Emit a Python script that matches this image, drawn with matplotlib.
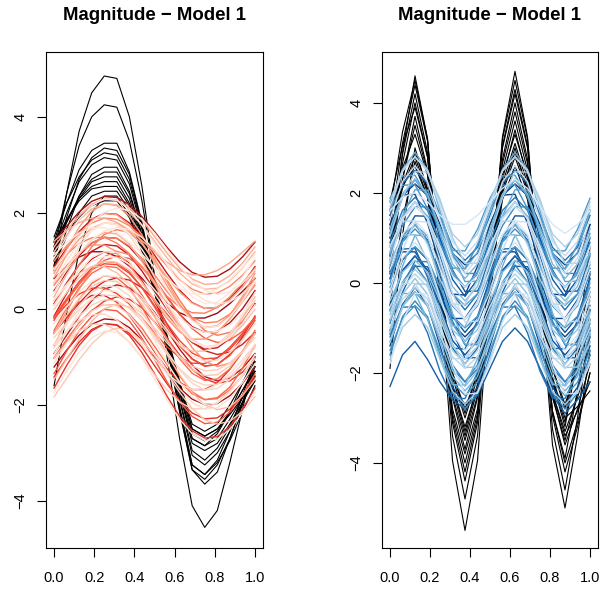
import numpy as np
import matplotlib
matplotlib.use("Agg")
import matplotlib.pyplot as plt

plt.rcParams['font.family'] = ['Liberation Sans', 'DejaVu Sans']

# common grid of the curves (t in [0, 1])
t_grid = np.linspace(0, 1, 17)

title = "Magnitude \u2212 Model 1"

# ---- left panel: outlying curves (black) ----
left_outliers = [
    [0.9, 2.4, 3.7, 4.5, 4.85, 4.8, 4.0, 2.55, 0.7, -1.0, -2.7, -4.1, -4.55, -4.2, -3.2, -2.1, -1.0],
    [1.2, 2.4, 3.4, 4.0, 4.25, 4.2, 3.5, 2.25, 0.65, -0.8, -2.15, -3.35, -3.65, -3.4, -2.7, -1.95, -1.2],
    [1.4, 2.2, 2.9, 3.3, 3.45, 3.45, 2.85, 1.8, 0.5, -0.8, -2.1, -3.35, -3.55, -3.25, -2.7, -2.0, -1.3],
    [1.0, 1.9, 2.7, 3.15, 3.35, 3.3, 2.8, 1.75, 0.5, -0.75, -2.05, -3.25, -3.45, -3.15, -2.55, -1.8, -1.1],
    [1.5, 2.2, 2.75, 3.1, 3.25, 3.2, 2.7, 1.7, 0.5, -0.75, -1.9, -3.05, -3.25, -3.0, -2.55, -1.95, -1.4],
    [1.3, 2.0, 2.65, 3.0, 3.15, 3.1, 2.6, 1.65, 0.5, -0.65, -1.75, -2.8, -2.95, -2.8, -2.4, -1.95, -1.5],
    [0.8, 1.65, 2.35, 2.8, 2.95, 2.95, 2.45, 1.55, 0.45, -0.65, -1.7, -2.7, -2.85, -2.6, -2.15, -1.55, -1.0],
    [1.1, 1.8, 2.35, 2.7, 2.85, 2.85, 2.4, 1.5, 0.45, -0.7, -1.85, -2.95, -3.15, -2.9, -2.45, -1.85, -1.3],
    [1.2, 1.8, 2.3, 2.65, 2.75, 2.75, 2.3, 1.45, 0.4, -0.6, -1.6, -2.6, -2.75, -2.55, -2.15, -1.7, -1.2],
    [1.4, 1.85, 2.25, 2.5, 2.55, 2.55, 2.15, 1.35, 0.4, -0.6, -1.55, -2.5, -2.65, -2.5, -2.2, -1.85, -1.5],
    [0.9, 1.5, 2.0, 2.35, 2.45, 2.45, 2.05, 1.3, 0.35, -0.55, -1.5, -2.4, -2.55, -2.4, -2.0, -1.55, -1.1],
    [1.0, 1.5, 1.9, 2.15, 2.25, 2.25, 1.9, 1.2, 0.35, -0.65, -1.7, -2.7, -2.85, -2.7, -2.3, -1.85, -1.4],
    [-1.6, -0.1, 1.2, 2.0, 2.35, 2.35, 1.95, 1.25, 0.35, -0.6, -1.55, -2.5, -2.65, -2.5, -2.15, -1.7, -1.3],
    [1.3, 1.85, 2.3, 2.55, 2.65, 2.65, 2.2, 1.4, 0.4, -0.75, -2.05, -3.25, -3.45, -3.2, -2.75, -2.15, -1.6],
]

# ---- left panel: regular curves (reds) ----
left_curves = [
    [0.08, 0.46, 0.81, 1.07, 1.19, 1.17, 0.99, 0.70, 0.32, -0.06, -0.41, -0.67, -0.79, -0.77, -0.59, -0.30, 0.08],
    [-0.74, -0.31, 0.07, 0.35, 0.49, 0.46, 0.27, -0.06, -0.46, -0.89, -1.27, -1.55, -1.69, -1.66, -1.47, -1.14, -0.74],
    [0.79, 1.14, 1.45, 1.68, 1.79, 1.77, 1.61, 1.35, 1.01, 0.66, 0.35, 0.12, 0.01, 0.03, 0.19, 0.45, 0.79],
    [-1.35, -0.88, -0.46, -0.16, -0.01, -0.04, -0.25, -0.61, -1.05, -1.52, -1.94, -2.24, -2.39, -2.36, -2.15, -1.79, -1.35],
    [0.38, 0.76, 1.11, 1.37, 1.49, 1.47, 1.29, 1.00, 0.62, 0.24, -0.11, -0.37, -0.49, -0.47, -0.29, 0.00, 0.38],
    [-0.31, 0.04, 0.35, 0.58, 0.69, 0.67, 0.51, 0.25, -0.09, -0.44, -0.75, -0.98, -1.09, -1.07, -0.91, -0.65, -0.31],
    [1.19, 1.54, 1.85, 2.08, 2.19, 2.17, 2.01, 1.75, 1.41, 1.06, 0.75, 0.52, 0.41, 0.43, 0.59, 0.85, 1.19],
    [-1.02, -0.64, -0.29, -0.03, 0.09, 0.07, -0.11, -0.40, -0.78, -1.16, -1.51, -1.77, -1.89, -1.87, -1.69, -1.40, -1.02],
    [-0.15, 0.32, 0.74, 1.04, 1.19, 1.16, 0.95, 0.59, 0.15, -0.32, -0.74, -1.04, -1.19, -1.16, -0.95, -0.59, -0.15],
    [0.56, 0.99, 1.37, 1.65, 1.79, 1.76, 1.57, 1.24, 0.84, 0.41, 0.03, -0.25, -0.39, -0.36, -0.17, 0.16, 0.56],
    [-0.52, -0.14, 0.21, 0.47, 0.59, 0.57, 0.39, 0.10, -0.28, -0.66, -1.01, -1.27, -1.39, -1.37, -1.19, -0.90, -0.52],
    [1.00, 1.31, 1.59, 1.79, 1.89, 1.87, 1.73, 1.50, 1.20, 0.89, 0.61, 0.41, 0.31, 0.33, 0.47, 0.70, 1.00],
    [-1.65, -1.18, -0.76, -0.46, -0.31, -0.34, -0.55, -0.91, -1.35, -1.82, -2.24, -2.54, -2.69, -2.66, -2.45, -2.09, -1.65],
    [0.20, 0.51, 0.79, 0.99, 1.09, 1.07, 0.93, 0.70, 0.40, 0.09, -0.19, -0.39, -0.49, -0.47, -0.33, -0.10, 0.20],
    [-0.81, -0.46, -0.15, 0.08, 0.19, 0.17, 0.01, -0.25, -0.59, -0.94, -1.25, -1.48, -1.59, -1.57, -1.41, -1.15, -0.81],
    [0.65, 1.12, 1.54, 1.84, 1.99, 1.96, 1.75, 1.39, 0.95, 0.48, 0.06, -0.24, -0.39, -0.36, -0.15, 0.21, 0.65],
    [-0.24, 0.19, 0.57, 0.85, 0.99, 0.96, 0.77, 0.44, 0.04, -0.39, -0.77, -1.05, -1.19, -1.16, -0.97, -0.64, -0.24],
    [1.39, 1.72, 2.02, 2.24, 2.34, 2.32, 2.17, 1.92, 1.61, 1.28, 0.98, 0.76, 0.66, 0.68, 0.83, 1.08, 1.39],
    [-1.14, -0.71, -0.33, -0.05, 0.09, 0.06, -0.13, -0.46, -0.86, -1.29, -1.67, -1.95, -2.09, -2.06, -1.87, -1.54, -1.14],
    [0.25, 0.72, 1.14, 1.44, 1.59, 1.56, 1.35, 0.99, 0.55, 0.08, -0.34, -0.64, -0.79, -0.76, -0.55, -0.19, 0.25],
    [-0.45, 0.02, 0.44, 0.74, 0.89, 0.86, 0.65, 0.29, -0.15, -0.62, -1.04, -1.34, -1.49, -1.46, -1.25, -0.89, -0.45],
    [0.88, 1.26, 1.61, 1.87, 1.99, 1.97, 1.79, 1.50, 1.12, 0.74, 0.39, 0.13, 0.01, 0.03, 0.21, 0.50, 0.88],
    [-0.95, -0.48, -0.06, 0.24, 0.39, 0.36, 0.15, -0.21, -0.65, -1.12, -1.54, -1.84, -1.99, -1.96, -1.75, -1.39, -0.95],
    [-0.01, 0.34, 0.65, 0.88, 0.99, 0.97, 0.81, 0.55, 0.21, -0.14, -0.45, -0.68, -0.79, -0.77, -0.61, -0.35, -0.01],
    [0.49, 0.84, 1.15, 1.38, 1.49, 1.47, 1.31, 1.05, 0.71, 0.36, 0.05, -0.18, -0.29, -0.27, -0.11, 0.15, 0.49],
    [-1.42, -1.04, -0.69, -0.43, -0.31, -0.33, -0.51, -0.80, -1.18, -1.56, -1.91, -2.17, -2.29, -2.27, -2.09, -1.80, -1.42],
    [1.06, 1.49, 1.87, 2.15, 2.29, 2.26, 2.07, 1.74, 1.34, 0.91, 0.53, 0.25, 0.11, 0.14, 0.33, 0.66, 1.06],
    [-0.60, -0.29, -0.01, 0.19, 0.29, 0.27, 0.13, -0.10, -0.40, -0.71, -0.99, -1.19, -1.29, -1.27, -1.13, -0.90, -0.60],
    [0.74, 1.24, 1.70, 2.03, 2.19, 2.15, 1.93, 1.54, 1.06, 0.56, 0.10, -0.23, -0.39, -0.35, -0.13, 0.26, 0.74],
    [-0.17, 0.21, 0.56, 0.82, 0.94, 0.92, 0.74, 0.45, 0.07, -0.31, -0.66, -0.92, -1.04, -1.02, -0.84, -0.55, -0.17],
    [-1.21, -0.86, -0.55, -0.32, -0.21, -0.23, -0.39, -0.65, -0.99, -1.34, -1.65, -1.88, -1.99, -1.97, -1.81, -1.55, -1.21],
    [0.34, 0.84, 1.30, 1.63, 1.79, 1.75, 1.53, 1.14, 0.66, 0.16, -0.30, -0.63, -0.79, -0.75, -0.53, -0.14, 0.34],
    [1.29, 1.64, 1.95, 2.18, 2.29, 2.27, 2.11, 1.85, 1.51, 1.16, 0.85, 0.62, 0.51, 0.53, 0.69, 0.95, 1.29],
    [-0.76, -0.26, 0.20, 0.53, 0.69, 0.65, 0.43, 0.04, -0.44, -0.94, -1.40, -1.73, -1.89, -1.85, -1.63, -1.24, -0.76],
    [0.11, 0.54, 0.92, 1.20, 1.34, 1.31, 1.12, 0.79, 0.39, -0.04, -0.42, -0.70, -0.84, -0.81, -0.62, -0.29, 0.11],
    [-1.74, -1.30, -0.90, -0.60, -0.46, -0.49, -0.69, -1.03, -1.46, -1.90, -2.30, -2.60, -2.74, -2.71, -2.51, -2.17, -1.74],
    # curves peaking a little earlier
    [0.17, 0.49, 0.74, 0.88, 0.88, 0.75, 0.51, 0.18, -0.17, -0.49, -0.74, -0.88, -0.88, -0.75, -0.51, -0.18, 0.17],
    [0.85, 1.14, 1.36, 1.48, 1.49, 1.37, 1.15, 0.86, 0.55, 0.26, 0.04, -0.08, -0.09, 0.03, 0.25, 0.54, 0.85],
    [-0.51, -0.15, 0.13, 0.28, 0.28, 0.14, -0.14, -0.50, -0.89, -1.25, -1.53, -1.68, -1.68, -1.54, -1.26, -0.90, -0.51],
    [1.13, 1.38, 1.58, 1.69, 1.69, 1.59, 1.39, 1.14, 0.87, 0.62, 0.42, 0.31, 0.31, 0.41, 0.61, 0.86, 1.13],
    [-1.03, -0.71, -0.46, -0.32, -0.32, -0.45, -0.69, -1.02, -1.37, -1.69, -1.94, -2.08, -2.08, -1.95, -1.71, -1.38, -1.03],
    [0.54, 0.90, 1.18, 1.33, 1.33, 1.19, 0.91, 0.55, 0.16, -0.20, -0.48, -0.63, -0.63, -0.49, -0.21, 0.15, 0.54],
    [-0.20, 0.09, 0.31, 0.43, 0.44, 0.32, 0.10, -0.19, -0.50, -0.79, -1.01, -1.13, -1.14, -1.02, -0.80, -0.51, -0.20],
    [0.63, 0.88, 1.08, 1.19, 1.19, 1.09, 0.89, 0.64, 0.37, 0.12, -0.08, -0.19, -0.19, -0.09, 0.11, 0.36, 0.63],
    [-0.75, -0.46, -0.24, -0.12, -0.11, -0.23, -0.45, -0.74, -1.05, -1.34, -1.56, -1.68, -1.69, -1.57, -1.35, -1.06, -0.75],
    [1.41, 1.63, 1.80, 1.89, 1.89, 1.80, 1.64, 1.42, 1.19, 0.97, 0.80, 0.71, 0.71, 0.80, 0.96, 1.18, 1.41],
    # curves peaking a little later
    [-0.18, 0.16, 0.51, 0.81, 1.01, 1.10, 1.05, 0.87, 0.58, 0.24, -0.11, -0.41, -0.61, -0.70, -0.65, -0.47, -0.18],
    [-0.93, -0.55, -0.16, 0.17, 0.41, 0.50, 0.44, 0.24, -0.07, -0.45, -0.84, -1.17, -1.41, -1.50, -1.44, -1.24, -0.93],
    [0.56, 0.86, 1.17, 1.44, 1.62, 1.70, 1.65, 1.49, 1.24, 0.94, 0.63, 0.36, 0.18, 0.10, 0.15, 0.31, 0.56],
    [-1.47, -1.05, -0.63, -0.26, 0.00, 0.10, 0.04, -0.19, -0.53, -0.95, -1.37, -1.74, -2.00, -2.10, -2.04, -1.81, -1.47],
    [0.08, 0.50, 0.92, 1.29, 1.55, 1.65, 1.59, 1.36, 1.02, 0.60, 0.18, -0.19, -0.45, -0.55, -0.49, -0.26, 0.08],
    [-0.49, -0.19, 0.12, 0.39, 0.57, 0.65, 0.60, 0.44, 0.19, -0.11, -0.42, -0.69, -0.87, -0.95, -0.90, -0.74, -0.49],
    [0.82, 1.16, 1.51, 1.81, 2.01, 2.10, 2.05, 1.87, 1.58, 1.24, 0.89, 0.59, 0.39, 0.30, 0.35, 0.53, 0.82],
    [-1.83, -1.45, -1.06, -0.73, -0.49, -0.40, -0.46, -0.66, -0.97, -1.35, -1.74, -2.07, -2.31, -2.40, -2.34, -2.14, -1.83],
    [-0.51, -0.06, 0.41, 0.81, 1.09, 1.20, 1.13, 0.89, 0.51, 0.06, -0.41, -0.81, -1.09, -1.20, -1.13, -0.89, -0.51],
    [-1.03, -0.69, -0.34, -0.04, 0.16, 0.25, 0.20, 0.02, -0.27, -0.61, -0.96, -1.26, -1.46, -1.55, -1.50, -1.32, -1.03],
]

# ---- right panel: outlying curves (black) ----
right_outliers = [
    [0.3, 2.9, 4.6, 3.2, -0.2, -3.95, -5.5, -3.95, -0.2, 3.25, 4.7, 3.25, -0.2, -3.6, -5.0, -3.4, -1.5],
    [1.6, 3.35, 4.5, 3.2, 0.0, -3.4, -4.8, -3.4, 0.0, 3.2, 4.5, 3.2, 0.0, -3.25, -4.6, -3.0, -1.0],
    [1.2, 3.1, 4.4, 3.15, 0.1, -3.1, -4.4, -3.1, 0.1, 3.05, 4.3, 3.05, 0.1, -2.95, -4.2, -3.2, -2.0],
    [0.8, 2.85, 4.2, 2.9, -0.3, -2.9, -4.0, -2.9, -0.3, 2.75, 4.0, 2.75, -0.3, -2.85, -3.9, -2.4, -0.6],
    [1.8, 3.05, 3.9, 2.8, 0.2, -2.55, -3.7, -2.55, 0.2, 3.0, 4.2, 3.0, 0.2, -2.5, -3.6, -2.8, -1.8],
    [0.5, 2.3, 3.5, 2.45, -0.1, -2.5, -3.5, -2.5, -0.1, 2.5, 3.6, 2.5, -0.1, -2.45, -3.4, -2.85, -2.2],
    [1.4, 2.55, 3.3, 2.4, 0.3, -2.25, -3.3, -2.25, 0.3, 2.4, 3.3, 2.4, 0.3, -2.2, -3.2, -1.65, 0.2],
    [-1.9, 1.05, 3.0, 2.05, -0.2, -2.3, -3.2, -2.3, -0.2, 2.05, 3.0, 2.05, -0.2, -2.55, -3.5, -2.45, -1.2],
    [1.0, 2.1, 2.8, 2.0, 0.0, -2.1, -3.0, -2.1, 0.0, 2.0, 2.8, 2.0, 0.0, -2.1, -3.0, -2.75, -2.4],
    [1.5, 2.15, 2.6, 1.9, 0.2, -2.0, -2.9, -2.0, 0.2, 2.1, 2.9, 2.1, 0.2, -1.9, -2.8, -1.7, -0.3],
    [0.2, 2.3, 3.7, 2.5, -0.4, -2.8, -3.8, -2.8, -0.4, 2.3, 3.4, 2.3, -0.4, -2.45, -3.3, -2.55, -1.6],
    [1.1, 2.2, 2.9, 2.1, 0.1, -2.35, -3.4, -2.35, 0.1, 2.2, 3.1, 2.2, 0.1, -2.15, -3.1, -1.35, 0.8],
    [0.6, 2.65, 4.0, 2.8, -0.1, -3.0, -4.2, -3.0, -0.1, 2.65, 3.8, 2.65, -0.1, -2.85, -4.0, -3.1, -2.0],
    [-0.5, 1.4, 2.7, 1.9, 0.0, -2.0, -2.8, -2.0, 0.0, 1.85, 2.6, 1.85, 0.0, -1.9, -2.7, -1.85, -0.8],
]

# ---- right panel: regular curves (blues) ----
right_curves = [
    [0.3, 1.08, 1.4, 1.08, 0.3, -0.48, -0.8, -0.48, 0.3, 1.08, 1.4, 1.08, 0.3, -0.48, -0.8, -0.48, 0.3],
    [-0.8, -0.09, 0.2, -0.09, -0.8, -1.51, -1.8, -1.51, -0.8, -0.09, 0.2, -0.09, -0.8, -1.51, -1.8, -1.51, -0.8],
    [1.2, 1.98, 2.3, 1.98, 1.2, 0.42, 0.1, 0.42, 1.2, 1.98, 2.3, 1.98, 1.2, 0.42, 0.1, 0.42, 1.2],
    [-1.5, -0.79, -0.5, -0.79, -1.5, -2.21, -2.5, -2.21, -1.5, -0.79, -0.5, -0.79, -1.5, -2.21, -2.5, -2.21, -1.5],
    [0.6, 1.45, 1.8, 1.45, 0.6, -0.25, -0.6, -0.25, 0.6, 1.45, 1.8, 1.45, 0.6, -0.25, -0.6, -0.25, 0.6],
    [-0.2, 0.51, 0.8, 0.51, -0.2, -0.91, -1.2, -0.91, -0.2, 0.51, 0.8, 0.51, -0.2, -0.91, -1.2, -0.91, -0.2],
    [1.7, 2.48, 2.8, 2.48, 1.7, 0.92, 0.6, 0.92, 1.7, 2.48, 2.8, 2.48, 1.7, 0.92, 0.6, 0.92, 1.7],
    [-1.1, -0.25, 0.1, -0.25, -1.1, -1.95, -2.3, -1.95, -1.1, -0.25, 0.1, -0.25, -1.1, -1.95, -2.3, -1.95, -1.1],
    [0.0, 0.92, 1.3, 0.92, 0.0, -0.92, -1.3, -0.92, 0.0, 0.92, 1.3, 0.92, 0.0, -0.92, -1.3, -0.92, 0.0],
    [0.9, 1.61, 1.9, 1.61, 0.9, 0.19, -0.1, 0.19, 0.9, 1.61, 1.9, 1.61, 0.9, 0.19, -0.1, 0.19, 0.9],
    [-0.5, 0.28, 0.6, 0.28, -0.5, -1.28, -1.6, -1.28, -0.5, 0.28, 0.6, 0.28, -0.5, -1.28, -1.6, -1.28, -0.5],
    [1.4, 2.25, 2.6, 2.25, 1.4, 0.55, 0.2, 0.55, 1.4, 2.25, 2.6, 2.25, 1.4, 0.55, 0.2, 0.55, 1.4],
    [-1.7, -0.99, -0.7, -0.99, -1.7, -2.41, -2.7, -2.41, -1.7, -0.99, -0.7, -0.99, -1.7, -2.41, -2.7, -2.41, -1.7],
    [0.4, 1.04, 1.3, 1.04, 0.4, -0.24, -0.5, -0.24, 0.4, 1.04, 1.3, 1.04, 0.4, -0.24, -0.5, -0.24, 0.4],
    [-0.9, 0.02, 0.4, 0.02, -0.9, -1.82, -2.2, -1.82, -0.9, 0.02, 0.4, 0.02, -0.9, -1.82, -2.2, -1.82, -0.9],
    [1.0, 1.92, 2.3, 1.92, 1.0, 0.08, -0.3, 0.08, 1.0, 1.92, 2.3, 1.92, 1.0, 0.08, -0.3, 0.08, 1.0],
    [-0.3, 0.55, 0.9, 0.55, -0.3, -1.15, -1.5, -1.15, -0.3, 0.55, 0.9, 0.55, -0.3, -1.15, -1.5, -1.15, -0.3],
    [1.8, 2.51, 2.8, 2.51, 1.8, 1.09, 0.8, 1.09, 1.8, 2.51, 2.8, 2.51, 1.8, 1.09, 0.8, 1.09, 1.8],
    [-1.3, -0.52, -0.2, -0.52, -1.3, -2.08, -2.4, -2.08, -1.3, -0.52, -0.2, -0.52, -1.3, -2.08, -2.4, -2.08, -1.3],
    [0.2, 0.91, 1.2, 0.91, 0.2, -0.51, -0.8, -0.51, 0.2, 0.91, 1.2, 0.91, 0.2, -0.51, -0.8, -0.51, 0.2],
    [-0.6, 0.25, 0.6, 0.25, -0.6, -1.45, -1.8, -1.45, -0.6, 0.25, 0.6, 0.25, -0.6, -1.45, -1.8, -1.45, -0.6],
    [1.3, 1.94, 2.2, 1.94, 1.3, 0.66, 0.4, 0.66, 1.3, 1.94, 2.2, 1.94, 1.3, 0.66, 0.4, 0.66, 1.3],
    [-1.0, -0.36, -0.1, -0.36, -1.0, -1.64, -1.9, -1.64, -1.0, -0.36, -0.1, -0.36, -1.0, -1.64, -1.9, -1.64, -1.0],
    [0.7, 1.48, 1.8, 1.48, 0.7, -0.08, -0.4, -0.08, 0.7, 1.48, 1.8, 1.48, 0.7, -0.08, -0.4, -0.08, 0.7],
    [-0.1, 0.54, 0.8, 0.54, -0.1, -0.74, -1.0, -0.74, -0.1, 0.54, 0.8, 0.54, -0.1, -0.74, -1.0, -0.74, -0.1],
    [1.5, 2.21, 2.5, 2.21, 1.5, 0.79, 0.5, 0.79, 1.5, 2.21, 2.5, 2.21, 1.5, 0.79, 0.5, 0.79, 1.5],
    [-1.4, -0.48, -0.1, -0.48, -1.4, -2.32, -2.7, -2.32, -1.4, -0.48, -0.1, -0.48, -1.4, -2.32, -2.7, -2.32, -1.4],
    [0.5, 1.42, 1.8, 1.42, 0.5, -0.42, -0.8, -0.42, 0.5, 1.42, 1.8, 1.42, 0.5, -0.42, -0.8, -0.42, 0.5],
    [-0.4, 0.24, 0.5, 0.24, -0.4, -1.04, -1.3, -1.04, -0.4, 0.24, 0.5, 0.24, -0.4, -1.04, -1.3, -1.04, -0.4],
    [1.1, 1.95, 2.3, 1.95, 1.1, 0.25, -0.1, 0.25, 1.1, 1.95, 2.3, 1.95, 1.1, 0.25, -0.1, 0.25, 1.1],
    [-1.2, -0.49, -0.2, -0.49, -1.2, -1.91, -2.2, -1.91, -1.2, -0.49, -0.2, -0.49, -1.2, -1.91, -2.2, -1.91, -1.2],
    [0.1, 0.95, 1.3, 0.95, 0.1, -0.75, -1.1, -0.75, 0.1, 0.95, 1.3, 0.95, 0.1, -0.75, -1.1, -0.75, 0.1],
    [0.8, 1.44, 1.7, 1.44, 0.8, 0.16, -0.1, 0.16, 0.8, 1.44, 1.7, 1.44, 0.8, 0.16, -0.1, 0.16, 0.8],
    [-0.7, 0.01, 0.3, 0.01, -0.7, -1.41, -1.7, -1.41, -0.7, 0.01, 0.3, 0.01, -0.7, -1.41, -1.7, -1.41, -0.7],
    [1.6, 2.52, 2.9, 2.52, 1.6, 0.68, 0.3, 0.68, 1.6, 2.52, 2.9, 2.52, 1.6, 0.68, 0.3, 0.68, 1.6],
    [-1.6, -0.75, -0.4, -0.75, -1.6, -2.45, -2.8, -2.45, -1.6, -0.75, -0.4, -0.75, -1.6, -2.45, -2.8, -2.45, -1.6],
    [-2.3, -1.6, -1.3, -1.7, -2.2, -2.6, -2.8, -2.5, -1.9, -1.3, -1.0, -1.3, -1.9, -2.5, -2.9, -2.6, -2.2],
    [1.6, 1.9, 2.0, 1.8, 1.5, 1.3, 1.3, 1.5, 1.8, 2.1, 2.3, 2.1, 1.7, 1.3, 1.1, 1.3, 1.6],
    # curves peaking a little earlier
    [0.82, 1.37, 1.38, 0.85, 0.08, -0.47, -0.48, 0.05, 0.82, 1.37, 1.38, 0.85, 0.08, -0.47, -0.48, 0.05, 0.82],
    [-0.84, -0.24, -0.23, -0.81, -1.66, -2.26, -2.27, -1.69, -0.84, -0.24, -0.23, -0.81, -1.66, -2.26, -2.27, -1.69, -0.84],
    [1.62, 2.17, 2.18, 1.65, 0.88, 0.33, 0.32, 0.85, 1.62, 2.17, 2.18, 1.65, 0.88, 0.33, 0.32, 0.85, 1.62],
    [0.09, 0.75, 0.77, 0.13, -0.79, -1.45, -1.47, -0.83, 0.09, 0.75, 0.77, 0.13, -0.79, -1.45, -1.47, -0.83, 0.09],
    [1.29, 1.95, 1.97, 1.33, 0.41, -0.25, -0.27, 0.37, 1.29, 1.95, 1.97, 1.33, 0.41, -0.25, -0.27, 0.37, 1.29],
    [-0.52, -0.02, -0.01, -0.49, -1.18, -1.68, -1.69, -1.21, -0.52, -0.02, -0.01, -0.49, -1.18, -1.68, -1.69, -1.21, -0.52],
    [0.46, 1.06, 1.07, 0.49, -0.36, -0.96, -0.97, -0.39, 0.46, 1.06, 1.07, 0.49, -0.36, -0.96, -0.97, -0.39, 0.46],
    [1.88, 2.38, 2.39, 1.91, 1.22, 0.72, 0.71, 1.19, 1.88, 2.38, 2.39, 1.91, 1.22, 0.72, 0.71, 1.19, 1.88],
    [-1.14, -0.54, -0.53, -1.11, -1.96, -2.56, -2.57, -1.99, -1.14, -0.54, -0.53, -1.11, -1.96, -2.56, -2.57, -1.99, -1.14],
    [0.25, 0.69, 0.69, 0.27, -0.35, -0.79, -0.79, -0.37, 0.25, 0.69, 0.69, 0.27, -0.35, -0.79, -0.79, -0.37, 0.25],
    # curves peaking a little later
    [-0.19, 0.73, 1.37, 1.35, 0.69, -0.23, -0.87, -0.85, -0.19, 0.73, 1.37, 1.35, 0.69, -0.23, -0.87, -0.85, -0.19],
    [-1.32, -0.55, -0.02, -0.03, -0.58, -1.35, -1.88, -1.87, -1.32, -0.55, -0.02, -0.03, -0.58, -1.35, -1.88, -1.87, -1.32],
    [0.64, 1.49, 2.07, 2.06, 1.46, 0.61, 0.03, 0.04, 0.64, 1.49, 2.07, 2.06, 1.46, 0.61, 0.03, 0.04, 0.64],
    [-0.82, -0.05, 0.48, 0.47, -0.08, -0.85, -1.38, -1.37, -0.82, -0.05, 0.48, 0.47, -0.08, -0.85, -1.38, -1.37, -0.82],
    [0.32, 1.01, 1.49, 1.48, 0.98, 0.29, -0.19, -0.18, 0.32, 1.01, 1.49, 1.48, 0.98, 0.29, -0.19, -0.18, 0.32],
    [-1.79, -0.87, -0.23, -0.25, -0.91, -1.83, -2.47, -2.45, -1.79, -0.87, -0.23, -0.25, -0.91, -1.83, -2.47, -2.45, -1.79],
    [1.04, 1.89, 2.47, 2.46, 1.86, 1.01, 0.43, 0.44, 1.04, 1.89, 2.47, 2.46, 1.86, 1.01, 0.43, 0.44, 1.04],
    [-0.63, 0.37, 1.06, 1.05, 0.33, -0.67, -1.36, -1.35, -0.63, 0.37, 1.06, 1.05, 0.33, -0.67, -1.36, -1.35, -0.63],
    [0.65, 1.27, 1.69, 1.69, 1.25, 0.63, 0.21, 0.21, 0.65, 1.27, 1.69, 1.69, 1.25, 0.63, 0.21, 0.21, 0.65],
    [-1.06, -0.21, 0.37, 0.36, -0.24, -1.09, -1.67, -1.66, -1.06, -0.21, 0.37, 0.36, -0.24, -1.09, -1.67, -1.66, -1.06],
]


def mixed_levels(n, step, lo, hi, gamma):
    # colour shades spread over the curves in a scattered (non-sorted) order
    return [lo + (hi - lo) * (((i * step) % n) / (n - 1)) ** gamma for i in range(n)]


def panel(ax, outliers, curves, cmap, ylim, step, lo, hi, gamma):
    for c in outliers:
        ax.plot(t_grid, c, color="black", lw=0.8)
    levels = mixed_levels(len(curves), step, lo, hi, gamma)
    # darker shades first, paler ones on top
    order = np.argsort(levels)[::-1]
    for k in order:
        ax.plot(t_grid, curves[k], color=cmap(levels[k]), lw=1.0)
    ax.set_xlim(-0.04, 1.04)
    ax.set_ylim(*ylim)
    ax.set_xticks([0.0, 0.2, 0.4, 0.6, 0.8, 1.0])
    ax.set_xticklabels(["0.0", "0.2", "0.4", "0.6", "0.8", "1.0"])
    ax.set_yticks([-4, -2, 0, 2, 4])
    ax.tick_params(axis="both", direction="out", length=6.5, width=0.8, labelsize=10.5)
    ax.tick_params(axis="x", pad=10)
    ax.tick_params(axis="y", pad=7)
    for lab in ax.get_yticklabels():
        lab.set_rotation(90)
        lab.set_va("center")
    for s in ax.spines.values():
        s.set_linewidth(0.8)


fig = plt.figure(figsize=(6.02, 5.89), dpi=100)
W, H = 602, 589
ax1 = fig.add_axes([46 / W, 1 - 548 / H, 217 / W, 496 / H])
ax2 = fig.add_axes([382 / W, 1 - 548 / H, 216 / W, 496 / H])

panel(ax1, left_outliers, left_curves, plt.cm.Reds, (-4.98, 5.35), 13, 0.08, 0.9, 1.6)
panel(ax2, right_outliers, right_curves, plt.cm.Blues, (-5.89, 5.13), 11, 0.15, 0.95, 1.0)

fig.text(154.5 / W, 1 - 15 / H, title, ha="center", va="center", fontsize=13.4, fontweight="bold")
fig.text(490 / W, 1 - 15 / H, title, ha="center", va="center", fontsize=13.4, fontweight="bold")

fig.savefig("out.png", dpi=100)
